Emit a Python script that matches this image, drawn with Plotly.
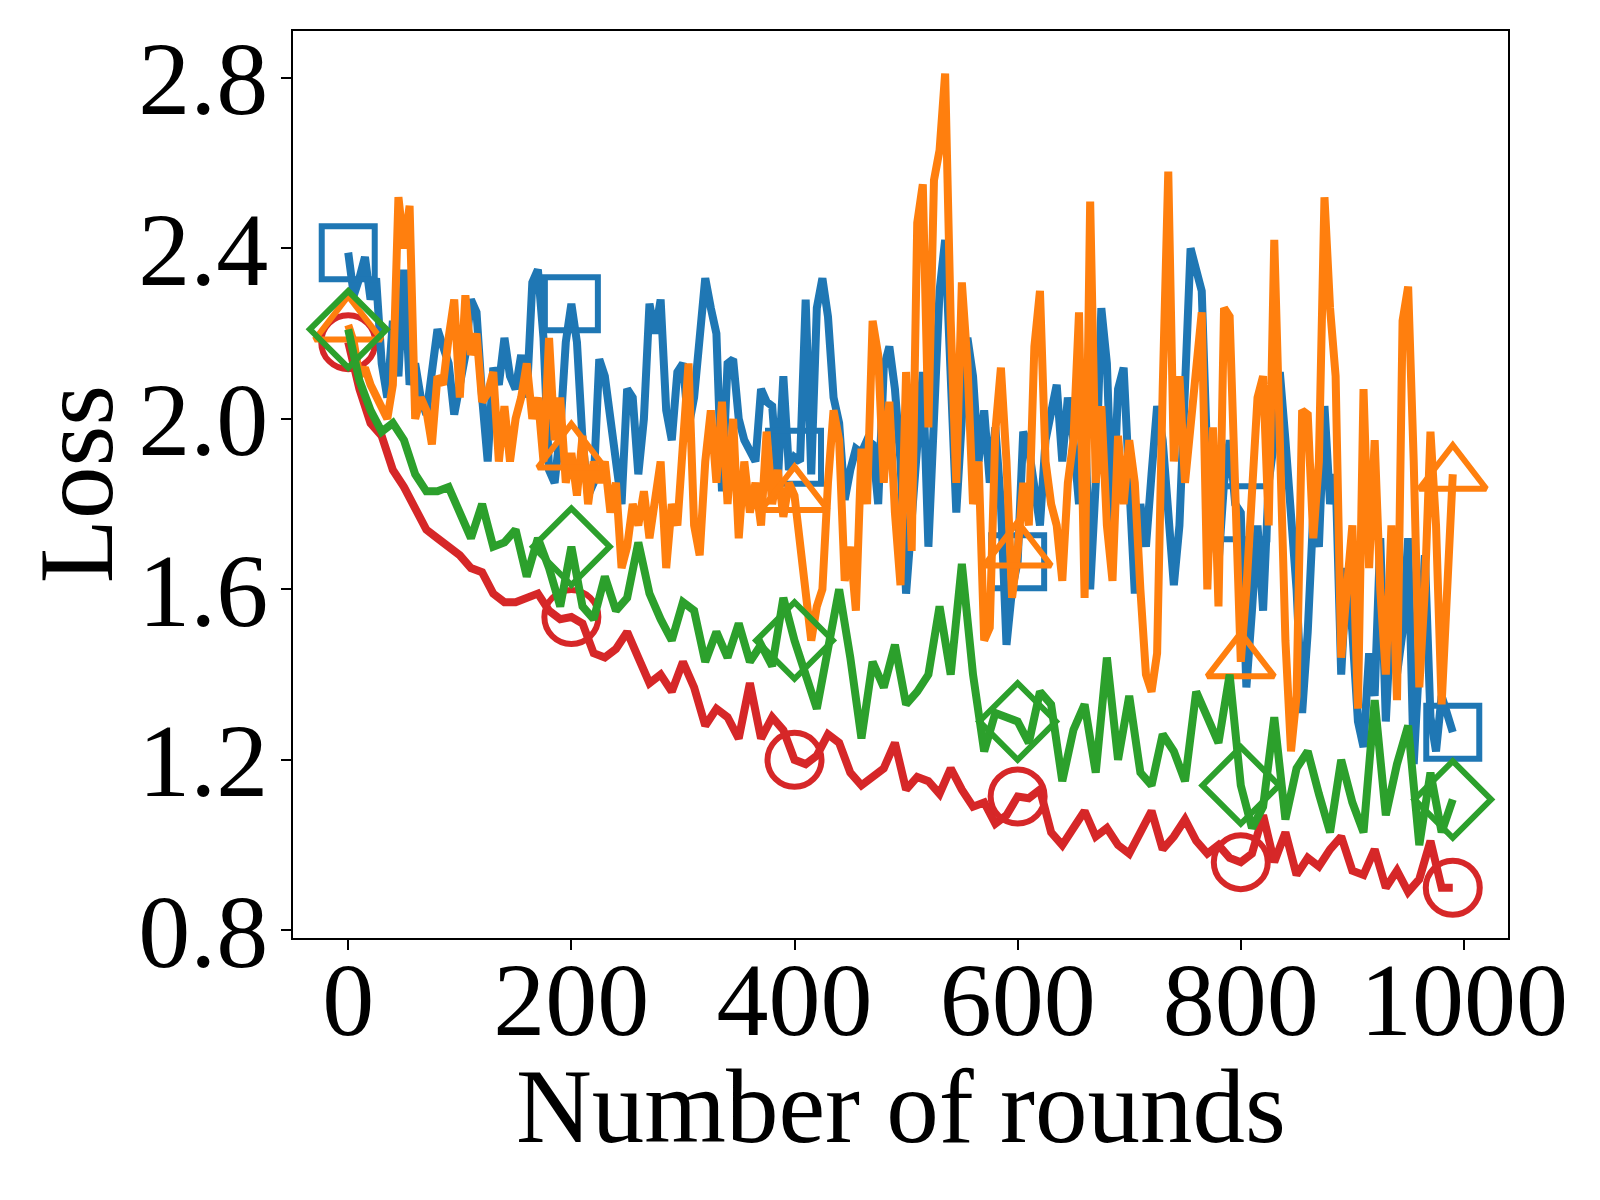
import plotly.graph_objects as go

# ---- data ----
rounds_fine = list(range(0, 991, 5))     # blue / orange sampled every 5 rounds
rounds_coarse = list(range(0, 991, 10))  # green / red sampled every 10 rounds
marker_rounds = [0, 200, 400, 600, 800, 990]

blue_loss = [
    2.39, 2.29, 2.33, 2.38, 2.28, 2.33, 2.13, 2.05, 2.23, 2.10, 2.35, 2.08, 2.13, 2.05, 2.01, 2.10, 2.21, 2.17, 2.13, 2.01,
    2.08, 2.15, 2.28, 2.25, 2.05, 1.90, 2.12, 2.08, 2.19, 2.10, 2.07, 2.15, 2.05, 2.32, 2.35, 2.19, 1.88, 1.85, 1.97, 2.18,
    2.27, 2.18, 1.95, 1.82, 1.85, 2.14, 2.10, 2.00, 1.90, 1.80, 2.07, 2.05, 1.87, 2.00, 2.27, 2.20, 2.28, 2.02, 1.95, 2.11,
    2.13, 1.98, 2.05, 2.17, 2.33, 2.26, 2.20, 1.83, 2.13, 2.14, 2.00, 1.95, 1.92, 1.90, 2.07, 2.04, 2.03, 1.85, 2.10, 1.88,
    1.91, 1.90, 2.28, 1.87, 2.26, 2.33, 2.24, 2.05, 1.99, 1.81, 1.88, 1.93, 1.92, 1.95, 1.94, 1.80, 2.12, 2.17, 2.07, 1.90,
    1.59, 1.75, 1.95, 2.11, 1.70, 1.96, 2.30, 2.42, 2.05, 1.78, 2.00, 2.19, 2.10, 1.90, 2.02, 1.85, 1.98, 1.80, 1.47, 1.60,
    1.665, 1.97, 1.93, 1.85, 1.75, 1.95, 2.02, 2.08, 1.90, 2.05, 1.95, 1.80, 2.03, 1.60, 1.85, 2.26, 2.13, 1.75, 2.07, 2.12,
    1.85, 1.59, 1.80, 1.70, 1.87, 2.03, 1.95, 1.80, 1.61, 1.75, 2.04, 2.40, 2.35, 2.30, 1.90, 1.75, 1.66, 1.85, 1.95, 1.80,
    1.78, 1.37, 1.55, 1.75, 1.55, 1.85, 1.95, 2.11, 1.95, 1.75, 1.60, 1.31, 1.50, 1.78, 1.70, 2.03, 1.80, 1.87, 1.40, 1.65,
    1.50, 1.29, 1.23, 1.45, 1.35, 1.72, 1.29, 1.55, 1.40, 1.50, 1.72, 1.19, 1.45, 1.68, 1.30, 1.22, 1.35, 1.30, 1.265,
]

orange_loss = [
    2.22, 2.18, 2.10, 2.12, 2.08, 2.05, 2.02, 2.00, 2.08, 2.52, 2.40, 2.50, 2.00, 2.05, 2.02, 1.94, 2.10, 2.08, 2.19, 2.28,
    2.05, 2.29, 2.15, 2.20, 2.04, 2.06, 2.11, 1.90, 2.03, 1.90, 2.00, 2.05, 2.13, 2.00, 2.05, 1.90, 2.19, 1.95, 2.05, 1.85,
    1.92, 1.82, 1.96, 1.80, 1.90, 1.85, 1.90, 1.78, 1.85, 1.65, 1.70, 1.80, 1.75, 1.83, 1.72, 1.80, 1.90, 1.65, 1.80, 1.75,
    1.95, 2.13, 1.75, 1.68, 1.90, 2.02, 1.85, 2.04, 1.80, 2.00, 1.72, 1.90, 1.78, 1.85, 1.75, 1.97, 1.80, 1.88, 1.77, 1.85,
    1.82, 1.70, 1.58, 1.48, 1.56, 1.60, 1.85, 2.02, 1.95, 1.62, 1.70, 1.55, 1.93, 1.80, 2.23, 2.15, 1.85, 2.04, 1.78, 1.61,
    2.11, 1.69, 2.46, 2.55, 1.98, 2.56, 2.63, 2.81, 2.23, 1.85, 2.32, 2.13, 1.80, 1.90, 1.48, 1.51, 1.97, 2.12, 1.90, 1.58,
    1.69, 1.85, 1.75, 2.17, 2.30, 1.90, 1.80, 1.75, 1.62, 1.85, 1.95, 2.25, 1.58, 2.51, 1.85, 2.03, 1.75, 1.62, 1.96, 1.80,
    1.95, 1.85, 1.60, 1.40, 1.36, 1.45, 2.07, 2.58, 1.90, 2.10, 1.85, 2.00, 2.10, 2.25, 1.60, 1.98, 1.56, 2.26, 2.24, 1.75,
    1.43, 1.60, 1.85, 2.05, 2.10, 1.75, 2.42, 1.85, 1.48, 1.22, 1.35, 2.02, 2.01, 1.72, 1.90, 2.52, 2.26, 2.10, 1.44, 1.60,
    1.75, 1.32, 2.07, 1.65, 1.95, 1.60, 1.40, 1.75, 1.34, 2.23, 2.31, 1.90, 1.37, 1.60, 1.97, 1.75, 1.33, 1.60, 1.87,
]

green_loss = [
    2.21, 2.09, 2.02, 1.97, 1.99, 1.95, 1.87, 1.83, 1.83, 1.84,
    1.78, 1.72, 1.80, 1.70, 1.71, 1.74, 1.63, 1.72, 1.65, 1.56,
    1.70, 1.56, 1.53, 1.63, 1.55, 1.58, 1.71, 1.59, 1.53, 1.48,
    1.57, 1.55, 1.43, 1.50, 1.44, 1.52, 1.43, 1.47, 1.42, 1.58,
    1.48, 1.40, 1.32, 1.46, 1.60, 1.44, 1.25, 1.43, 1.37, 1.47,
    1.33, 1.36, 1.40, 1.56, 1.40, 1.66, 1.40, 1.22, 1.31, 1.30,
    1.29, 1.24, 1.36, 1.33, 1.15, 1.27, 1.33, 1.17, 1.44, 1.20,
    1.35, 1.17, 1.14, 1.26, 1.22, 1.15, 1.36, 1.30, 1.24, 1.40,
    1.14, 1.04, 1.09, 1.30, 1.06, 1.18, 1.22, 1.12, 1.03, 1.20,
    1.10, 1.03, 1.34, 1.07, 1.19, 1.28, 1.00, 1.17, 1.03, 1.107,
]

red_loss = [
    2.18, 2.07, 1.99, 1.96, 1.88, 1.84, 1.79, 1.74, 1.72, 1.70,
    1.68, 1.65, 1.64, 1.59, 1.57, 1.57, 1.58, 1.59, 1.55, 1.53,
    1.535, 1.52, 1.45, 1.44, 1.46, 1.50, 1.44, 1.38, 1.40, 1.36,
    1.43, 1.37, 1.28, 1.32, 1.30, 1.25, 1.38, 1.25, 1.30, 1.27,
    1.20, 1.19, 1.21, 1.26, 1.24, 1.17, 1.14, 1.16, 1.18, 1.24,
    1.13, 1.16, 1.15, 1.12, 1.18, 1.13, 1.09, 1.10, 1.05, 1.07,
    1.114, 1.11, 1.13, 1.03, 1.00, 1.04, 1.08, 1.02, 1.04, 1.00,
    0.98, 1.03, 1.08, 0.99, 1.02, 1.06, 1.01, 0.98, 1.00, 0.97,
    0.96, 0.98, 1.07, 0.96, 1.03, 0.93, 0.97, 0.95, 0.99, 1.02,
    0.94, 0.93, 0.99, 0.90, 0.94, 0.89, 0.92, 1.01, 0.90, 0.90,
]

x_ticks = [0, 200, 400, 600, 800, 1000]
y_ticks = [0.8, 1.2, 1.6, 2.0, 2.4, 2.8]
x_label = "Number of rounds"
y_label = "Loss"

# ---- styles ----
FONT = "Liberation Serif, Times New Roman, serif"
series = [
    # (x, y, colour, marker symbol, marker size)
    (rounds_coarse, red_loss, "#d62728", "circle-open", 54),
    (rounds_fine, blue_loss, "#1f77b4", "square-open", 53),
    (rounds_fine, orange_loss, "#ff7f0e", "triangle-up-open", 58),
    (rounds_coarse, green_loss, "#2ca02c", "diamond-open", 59),
]

fig = go.Figure()
for xs, ys, col, sym, msize in series:
    fig.add_trace(go.Scatter(x=xs, y=ys, mode="lines",
                             line=dict(color=col, width=8),
                             showlegend=False, hoverinfo="skip"))
    lookup = dict(zip(xs, ys))
    fig.add_trace(go.Scatter(x=marker_rounds, y=[lookup[r] for r in marker_rounds],
                             mode="markers",
                             marker=dict(symbol=sym, size=msize, color=col,
                                         line=dict(color=col, width=6)),
                             showlegend=False, hoverinfo="skip"))

axis_common = dict(showgrid=False, zeroline=False, showline=True, mirror=True,
                   linecolor="black", linewidth=2, ticks="outside", ticklen=10,
                   tickwidth=2, tickcolor="black",
                   tickfont=dict(family=FONT, size=104, color="black"))

fig.update_layout(
    width=1600, height=1200,
    margin=dict(l=293, r=92, t=31, b=262),
    paper_bgcolor="white", plot_bgcolor="white",
    font=dict(family=FONT, color="black"),
    xaxis=dict(range=[-49.5, 1039.5], tickmode="array", tickvals=x_ticks,
               ticklabelstandoff=-40, **axis_common),
    yaxis=dict(range=[0.782, 2.91], tickmode="array", tickvals=y_ticks,
               tickformat=".1f", ticklabelstandoff=-8, **axis_common),
    annotations=[
        dict(text=x_label, xref="paper", yref="paper", x=0.5, y=-0.186,
             xanchor="center", yanchor="middle", showarrow=False,
             font=dict(family=FONT, size=105, color="black")),
        dict(text=y_label, xref="paper", yref="paper", x=-0.178, y=0.5,
             xanchor="center", yanchor="middle", textangle=-90, showarrow=False,
             font=dict(family=FONT, size=105, color="black")),
    ],
)

fig.write_html("out.html")
